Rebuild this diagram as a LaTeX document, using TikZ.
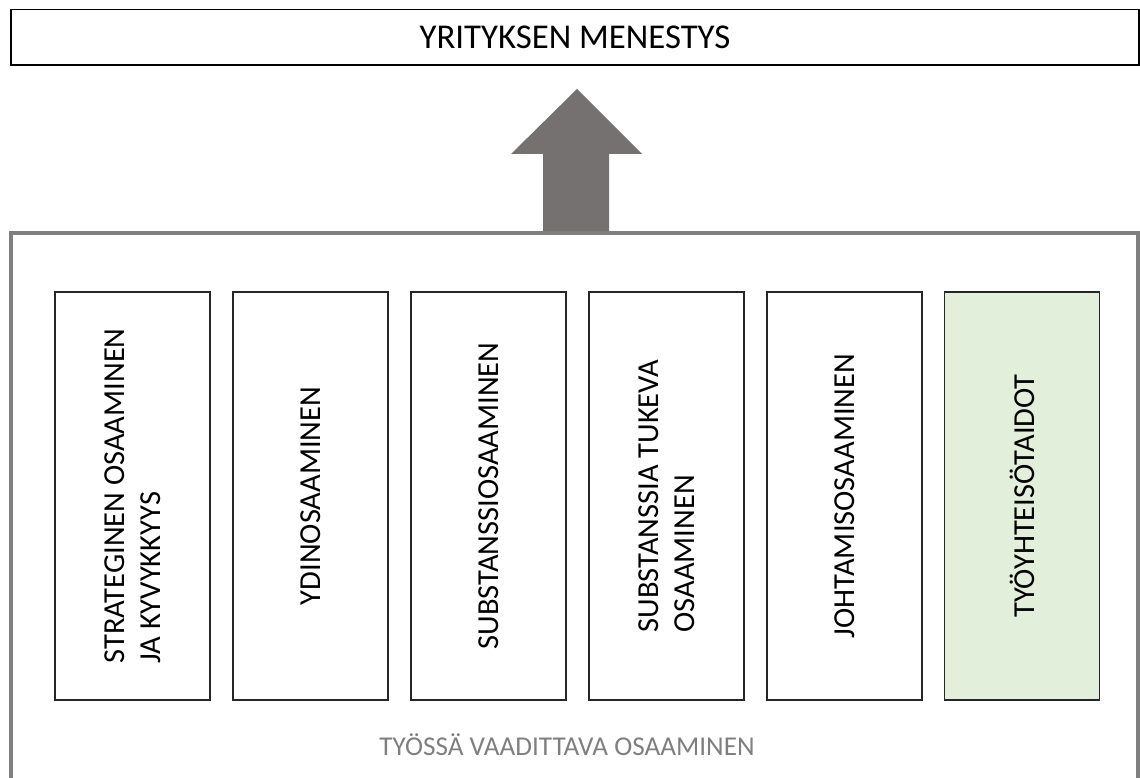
\documentclass[tikz,border=0pt]{standalone}
\usepackage{fontspec}
\setmainfont{Carlito}
\usepackage{xcolor}
\usetikzlibrary{arrows.meta,positioning}
\definecolor{pgreen}{HTML}{E2EFDA}
\definecolor{pgrayd}{HTML}{7F7F7F}
\definecolor{parrow}{HTML}{767171}
\definecolor{pedge}{HTML}{262626}
\tikzset{
  % white boxes with dark stroke, text turned upright
  goal/.style  = {rectangle, draw=black, line width=1.5pt, fill=white,
                  minimum width=1128pt, minimum height=55.5pt, inner sep=0pt,
                  font=\fontsize{34.8}{40}\selectfont},
  skill/.style = {rectangle, draw=pedge, line width=1.3pt, fill=#1, rotate=90,
                  minimum width=408pt, minimum height=155pt, inner sep=0pt,
                  align=left, font=\fontsize{30.5}{35.5}\selectfont},
  skill/.default = white,
  frame/.style = {rectangle, draw=pgrayd, line width=4pt,
                  minimum width=1127pt, minimum height=560pt, inner sep=0pt},
  tag/.style   = {font=\fontsize{27.2}{32}\selectfont, text=pgrayd},
}

\begin{document}
\begin{tikzpicture}[x=1pt,y=-1pt]
\useasboundingbox (0,0) rectangle (1140,778);
\clip (0,0) rectangle (1140,778);
% top
\node[goal] (menestys) at (575,37.25) {YRITYKSEN MENESTYS};
% frame, runs past the lower edge
\node[frame] (osaaminen) at (574.5,513) {};
\node[tag] (vaadittava) at (567,745) {TYÖSSÄ VAADITTAVA OSAAMINEN};
% arrow up
\fill[parrow] (543,231) -- (543,154) -- (511,154) -- (577,89)
  -- (642,154) -- (609,154) -- (609,231) -- cycle;
% skills
\node[skill] (strateginen) at (132.5,496) {STRATEGINEN OSAAMINEN\\JA KYVYKKYYS};
\node[skill] (ydin)        at (310.5,496) {YDINOSAAMINEN};
\node[skill] (substanssi)  at (488.5,496) {SUBSTANSSIOSAAMINEN};
\node[skill] (tukeva)      at (666.5,496) {SUBSTANSSIA TUKEVA\\OSAAMINEN};
\node[skill] (johtamis)    at (844.5,496) {JOHTAMISOSAAMINEN};
\node[skill=pgreen] (tyoyhteiso) at (1022,496) {TYÖYHTEISÖTAIDOT};
\end{tikzpicture}
\end{document}
